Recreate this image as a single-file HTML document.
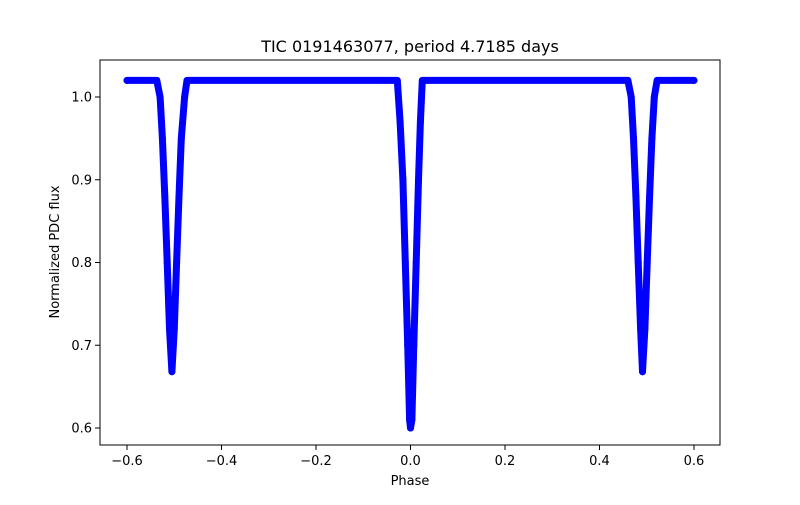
<!DOCTYPE html>
<html><head><meta charset="utf-8"><style>
body{margin:0;background:#fff}
svg{font-family:"DejaVu Sans","Liberation Sans",sans-serif}
</style></head><body>
<svg id="chart" width="800" height="500" xmlns="http://www.w3.org/2000/svg">
<rect width="800" height="500" fill="#fff"/>
<text x="410" y="52" text-anchor="middle" font-size="16">TIC 0191463077, period 4.7185 days</text>
<g id="plot"></g>
<rect x="100" y="60" width="620" height="385" fill="none" stroke="#000" stroke-width="1"/>
<text x="410" y="485" text-anchor="middle" font-size="13">Phase</text>
<text transform="translate(59,252) rotate(-90)" text-anchor="middle" font-size="13">Normalized PDC flux</text>
<g id="xticks"></g><g id="yticks"></g>
</svg>
<script>
const phases=[-0.600,-0.537,-0.530,-0.525,-0.520,-0.515,-0.510,-0.505,-0.500,-0.495,-0.490,-0.485,-0.478,-0.473,
-0.028,-0.022,-0.016,-0.011,-0.006,-0.002,0.000,0.003,0.007,0.012,0.017,0.021,0.025,
0.460,0.467,0.472,0.477,0.482,0.487,0.491,0.496,0.501,0.506,0.511,0.516,0.522,0.600];
const fluxes=[1.02,1.02,1.00,0.95,0.88,0.80,0.72,0.668,0.72,0.80,0.88,0.95,1.00,1.02,
1.02,0.97,0.90,0.80,0.70,0.61,0.600,0.61,0.70,0.80,0.90,0.97,1.02,
1.02,1.00,0.95,0.88,0.80,0.72,0.668,0.72,0.80,0.88,0.95,1.00,1.02,1.02];
const xTickVals=[-0.6,-0.4,-0.2,0.0,0.2,0.4,0.6];
const xTickLabels=["−0.6","−0.4","−0.2","0.0","0.2","0.4","0.6"];
const yTickVals=[0.6,0.7,0.8,0.9,1.0];
const yTickLabels=["0.6","0.7","0.8","0.9","1.0"];
const NS="http://www.w3.org/2000/svg";
const X=v=>410.5+v*472.5;
const Y=v=>97+(1.0-v)*827.5;
const plot=document.getElementById('plot');
let d=phases.map((p,i)=>(i?'L':'M')+X(p).toFixed(1)+','+Y(fluxes[i]).toFixed(1)).join(' ');
const path=document.createElementNS(NS,'path');
path.setAttribute('d',d);path.setAttribute('fill','none');path.setAttribute('stroke','#0000ff');
path.setAttribute('stroke-width','7');path.setAttribute('stroke-linejoin','round');path.setAttribute('stroke-linecap','round');


plot.appendChild(path);
phases.forEach((p,i)=>{
  const c=document.createElementNS(NS,'circle');
  c.setAttribute('cx',X(p));c.setAttribute('cy',Y(fluxes[i]));c.setAttribute('r','3.5');c.setAttribute('fill','#0000ff');
  
  
  plot.appendChild(c);
});
const xt=document.getElementById('xticks');
xTickVals.forEach((v,i)=>{
  const g=document.createElementNS(NS,'g');
  
  
  g.innerHTML=`<line x1="${X(v)}" x2="${X(v)}" y1="445" y2="450" stroke="#000"/><text x="${X(v)}" y="465" text-anchor="middle" font-size="13">${xTickLabels[i]}</text>`;
  xt.appendChild(g);
});
const yt=document.getElementById('yticks');
yTickVals.forEach((v,i)=>{
  const g=document.createElementNS(NS,'g');
  
  
  g.innerHTML=`<line x1="95" x2="100" y1="${Y(v)}" y2="${Y(v)}" stroke="#000"/><text x="92" y="${Y(v)+4.5}" text-anchor="end" font-size="13">${yTickLabels[i]}</text>`;
  yt.appendChild(g);
});
</script>
</body></html>
